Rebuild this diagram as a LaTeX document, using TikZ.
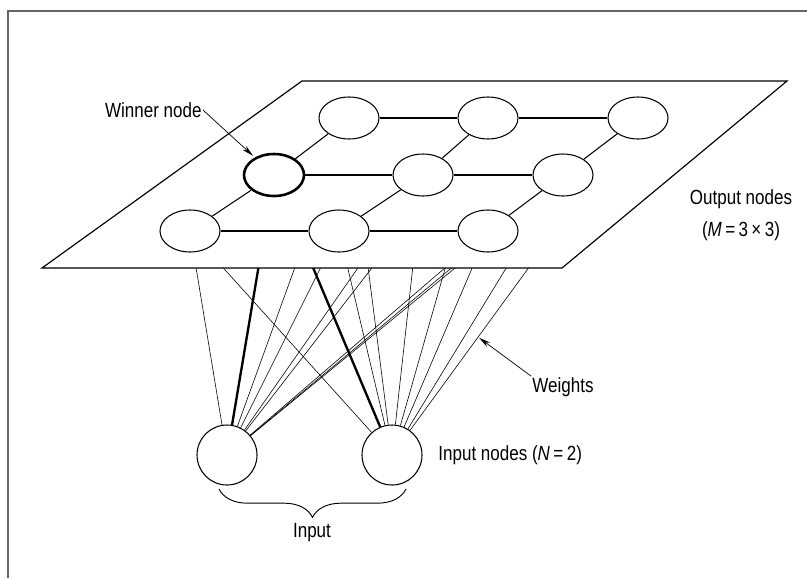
\documentclass[tikz,border=0pt]{standalone}
\usepackage{fontspec}
\setmainfont{Liberation Sans}[FakeStretch=0.83]
\usetikzlibrary{arrows.meta,backgrounds,calc,shapes.geometric,decorations.pathreplacing}

\begin{document}
\begin{tikzpicture}[
    x=0.03cm, y=-0.03cm,
    unit/.style={ellipse, draw, line width=0.9pt, minimum width=1.8cm, minimum height=1.26cm, inner sep=0pt},
    winner/.style={unit, line width=2.2pt},
    inp/.style={circle, draw, line width=0.9pt, minimum size=1.8cm, inner sep=0pt},
    lattice/.style={draw, line width=0.9pt},
    weight/.style={draw, line width=0.5pt},
    strong/.style={draw, line width=2pt},
    pointer/.style={draw, line width=0.6pt, -{Stealth[length=10pt, width=4.5pt]}},
    lbl/.style={font=\fontsize{17.5}{21}\selectfont, inner sep=1pt},
    plane/.style={draw, line width=1pt, fill=white}
]
  \useasboundingbox (0,0) rectangle (807,578);
  % page frame
  \draw[black!60, line width=1.2pt] (8,578) -- (8,11) -- (807,11);
  % output plane
  \draw[plane] (302,81) -- (787,81) -- (562,268) -- (42,268) -- cycle;
  % output nodes, back row to front row
  \foreach \c/\x in {1/349, 2/488, 3/638} {
    \node[unit] (o1\c) at (\x, 118) {};
  }
  \foreach \c/\x/\s in {1/274/winner, 2/423/unit, 3/563/unit} {
    \node[\s] (o2\c) at (\x, 175) {};
  }
  \foreach \c/\x in {1/190, 2/339, 3/488} {
    \node[unit] (o3\c) at (\x, 231) {};
  }
  \foreach \r in {1,2,3} {
    \draw[lattice] (o\r1) -- (o\r2) -- (o\r3);
  }
  \foreach \c in {1,2,3} {
    \draw[lattice] (o3\c) -- (o2\c) -- (o1\c);
  }
  % input nodes
  \node[inp] (in1) at (227, 455) {};
  \node[inp] (in2) at (392, 455) {};
  % weights, hidden behind the plane
  \begin{pgfonlayer}{background}
    \foreach \i in {1,2} {
      \foreach \r in {1,2,3} {
        \foreach \c in {1,2,3} {
          \draw[weight] (in\i) -- (o\r\c);
        }
      }
    }
    \draw[strong] (in1) -- (o21);
    \draw[strong] (in2) -- (o21);
  \end{pgfonlayer}
  % labels
  \node[lbl, anchor=east] (winlbl) at (203, 110) {Winner node};
  \draw[pointer, shorten >=2pt] (winlbl.east) -- (o21);
  \node[lbl] (outlbl) at (741, 199) {Output nodes};
  \node[lbl] (mlbl) at (741, 231) {(\textit{M}\,=\,3\,×\,3)};
  \coordinate (wtip) at ($(in2)!0.35!(o13)$);
  \node[lbl, anchor=west] (wlbl) at (531, 387) {Weights};
  \draw[pointer, shorten >=1pt] (wlbl.north west) -- (wtip);
  \node[lbl, anchor=west] (inlbl) at (437, 455) {Input nodes (\textit{N}\,=\,2)};
  % input brace
  \coordinate (brl) at (219, 489);
  \coordinate (brr) at (406, 489);
  \draw[line width=0.8pt, decorate, decoration={brace, mirror, amplitude=0.85cm}] (brl) -- (brr);
  \node[lbl] (inputlbl) at (312, 533) {Input};
\end{tikzpicture}
\end{document}
